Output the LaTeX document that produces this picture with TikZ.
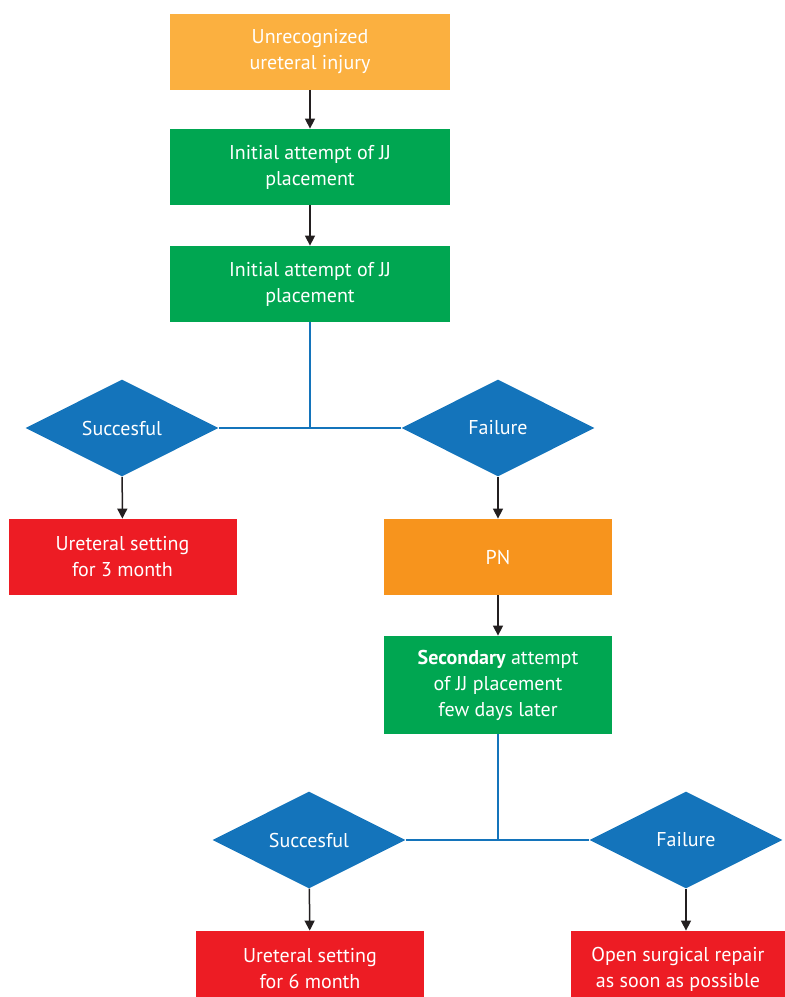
\documentclass[tikz,border=0pt]{standalone}
\usepackage{fontspec}
\setmainfont{PT Sans}
\usepackage{tikz}
\usetikzlibrary{shapes.geometric,arrows.meta}
\definecolor{boxyellow}{HTML}{FBB040}
\definecolor{boxgreen}{HTML}{00A651}
\definecolor{boxred}{HTML}{ED1C24}
\definecolor{boxorange}{HTML}{F7941D}
\definecolor{decblue}{HTML}{1474BB}
\definecolor{arrowgray}{HTML}{231F20}
\begin{document}
\begin{tikzpicture}[x=0.5pt,y=-0.5pt,
          font=\fontsize{10}{13}\selectfont,
          stepbox/.style={rectangle,text=white,align=center,inner sep=0pt,
            minimum width=114pt,minimum height=38pt},
          widebox/.style={stepbox,minimum width=140pt},
          decision/.style={diamond,fill=decblue,text=white,inner sep=0pt,
            minimum width=96.5pt,minimum height=48.5pt},
          flow/.style={draw=arrowgray,line width=0.75pt,
            -{Triangle[width=5pt,length=5pt]}},
          branch/.style={draw=decblue,line width=1.2pt}]
          \useasboundingbox (0,0) rectangle (785,997);
          \node[widebox,fill=boxyellow] (injury) at (310,51.5) {Unrecognized\\ureteral injury};
          \node[widebox,fill=boxgreen] (init1) at (310,167) {Initial attempt of JJ\\placement};
          \node[widebox,fill=boxgreen] (init2) at (310,284) {Initial attempt of JJ\\placement};
          \node[decision] (succ1) at (122,428) {Succesful};
          \node[decision] (fail1) at (498,428) {Failure};
          \node[stepbox,fill=boxred] (stent3) at (122.5,557) {Ureteral setting\\for 3 month};
          \node[stepbox,fill=boxorange] (pn) at (498,557) {PN};
          \node[stepbox,fill=boxgreen,minimum height=49pt] (second) at (498,685) %
          {\textbf{Secondary} attempt\\of JJ placement\\few days later};
          \node[decision] (succ2) at (309,840) {Succesful};
          \node[decision] (fail2) at (686,840) {Failure};
          \node[stepbox,fill=boxred] (stent6) at (310,969) {Ureteral setting\\for 6 month};
          \node[stepbox,fill=boxred,minimum width=107pt] (repair) at (678,969) %
          {Open surgical repair\\as soon as possible};
          \draw[flow] (injury) -- (init1);
          \draw[flow] (init1) -- (init2);
          \draw[branch] (init2.south) -- (init2.south |- succ1.east);
          \draw[branch] (succ1.east) -- (fail1.west);
          \draw[flow] (succ1) -- (stent3);
          \draw[flow] (fail1) -- (pn);
          \draw[flow] (pn) -- (second);
          \draw[branch] (second.south) -- (second.south |- succ2.east);
          \draw[branch] (succ2.east) -- (fail2.west);
          \draw[flow] (succ2) -- (stent6);
          \draw[flow] (fail2) -- (fail2 |- repair.north);
        \end{tikzpicture}
\end{document}
